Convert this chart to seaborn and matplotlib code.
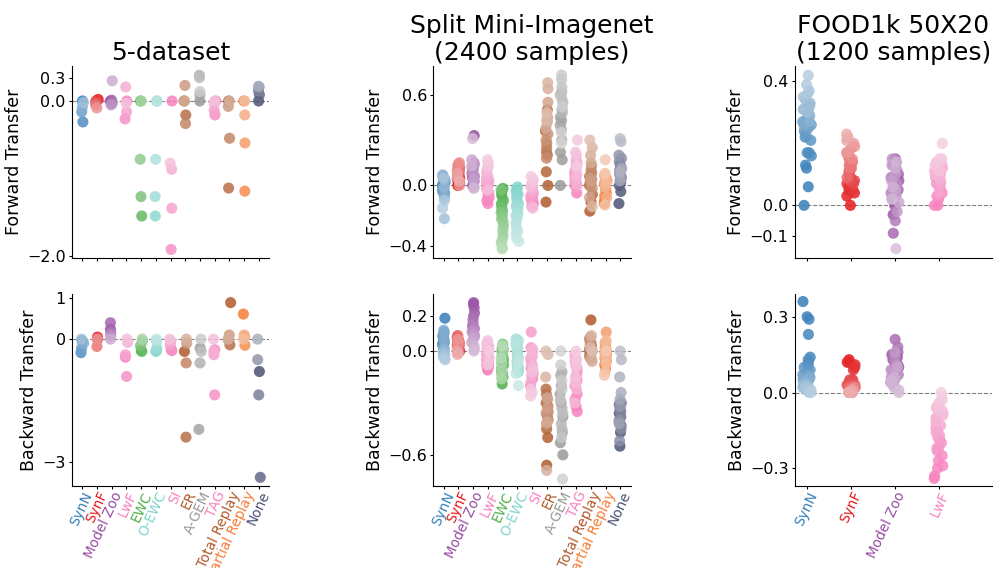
import numpy as np
import pandas as pd
import matplotlib
matplotlib.use("Agg")
import matplotlib.pyplot as plt
import matplotlib.transforms as mtransforms
import seaborn as sns

np.random.seed(3)

methods = ["SynN", "SynF", "Model Zoo", "LwF", "EWC", "O-EWC", "SI", "ER",
           "A-GEM", "TAG", "Total Replay", "Partial Replay", "None"]
colors = ["#377eb8", "#e41a1c", "#984ea3", "#f781bf", "#4daf4a", "#80d4cc",
          "#f781bf", "#b05a2c", "#999999", "#f781bf", "#b05a2c", "#f67d35", "#4c5275"]
food_methods = methods[:4]

titles = ["5-dataset", "Split Mini-Imagenet\n(2400 samples)", "FOOD1k 50X20\n(1200 samples)"]

# values per method, listed from first task (darkest) to last task (lightest)
five_fwd = [
    [0.0, -0.27, -0.14, -0.08, -0.02],
    [0.02, 0.0, -0.02, -0.05, -0.09],
    [0.0, 0.01, -0.03, -0.05, 0.26],
    [0.0, -0.23, -0.14, 0.18, -0.03],
    [0.0, -1.48, -1.23, -0.75, 0.0],
    [0.0, -1.48, -1.23, -0.75, 0.0],
    [0.0, -1.91, -1.38, -0.88, -0.8],
    [0.0, -0.18, -0.29, 0.2, 0.0],
    [0.0, 0.08, 0.33, 0.3, 0.12],
    [0.0, -0.18, -0.12, -0.03, 0.0],
    [0.0, -1.12, -0.48, -0.07, 0.0],
    [0.0, -1.16, -0.54, -0.18, 0.0],
    [0.0, 0.08, 0.13, 0.18, 0.19],
]
five_bwd = [
    [-0.04, -0.33, -0.22, -0.1, 0.0],
    [0.03, 0.05, 0.0, -0.18, 0.0],
    [0.24, 0.4, 0.15, 0.08, 0.0],
    [-0.44, -0.91, -0.38, -0.08, 0.0],
    [-0.28, -0.3, -0.16, -0.05, 0.0],
    [-0.28, -0.3, -0.22, -0.05, 0.0],
    [-0.28, -0.25, -0.14, -0.05, 0.0],
    [-0.3, -2.39, -0.58, -0.1, 0.0],
    [-0.22, -2.2, -0.58, -0.3, 0.0],
    [-0.26, -1.36, -0.38, -0.3, 0.0],
    [0.89, -0.14, -0.02, 0.1, 0.0],
    [0.61, -0.15, 0.06, 0.1, 0.0],
    [-0.79, -3.37, -1.36, -0.5, 0.0],
]
mini_fwd = [
    [0.0, 0.02, -0.02, 0.04, -0.04, 0.01, -0.06, 0.03, 0.05, -0.03, -0.05, 0.06, -0.08, 0.07, -0.01, 0.04, -0.22, 0.05, -0.1, -0.15],
    [0.0, 0.02, 0.01, 0.04, 0.03, 0.06, 0.05, 0.08, 0.07, 0.1, 0.09, 0.12, 0.11, 0.14, 0.13, 0.15, 0.0, 0.05, 0.08, 0.03],
    [0.33, 0.0, 0.05, 0.1, 0.12, 0.08, 0.03, 0.07, 0.15, 0.11, 0.06, 0.02, 0.09, 0.14, 0.04, -0.01, 0.17, 0.13, -0.02, 0.31],
    [-0.12, -0.1, -0.08, -0.06, -0.05, -0.02, 0.0, 0.02, 0.03, -0.01, 0.05, 0.04, 0.06, 0.08, 0.1, -0.03, 0.12, 0.13, 0.15, 0.17],
    [-0.02, -0.05, -0.07, -0.1, -0.12, -0.13, -0.15, -0.17, -0.03, -0.18, -0.2, -0.22, -0.24, -0.27, -0.3, -0.33, -0.36, -0.38, -0.41, -0.42],
    [-0.01, -0.03, -0.05, -0.06, -0.08, -0.1, -0.12, -0.13, -0.14, -0.15, -0.17, -0.19, -0.2, -0.22, -0.25, -0.28, -0.3, -0.32, -0.35, -0.37],
    [-0.12, -0.1, -0.11, -0.08, -0.13, -0.06, -0.09, -0.04, -0.07, -0.05, -0.02, -0.14, -0.03, 0.0, -0.15, -0.01, 0.02, 0.03, 0.04, 0.06],
    [-0.11, 0.0, 0.09, 0.36, 0.5, 0.22, 0.2, 0.25, 0.28, 0.18, 0.3, 0.34, 0.42, 0.45, 0.55, 0.38, 0.64, 0.68, 0.43, 0.48],
    [0.0, 0.17, 0.22, 0.43, 0.45, 0.4, 0.3, 0.37, 0.5, 0.48, 0.55, 0.6, 0.62, 0.58, 0.65, 0.7, 0.73, 0.52, 0.35, 0.28],
    [-0.05, 0.0, 0.02, 0.05, 0.03, 0.08, 0.1, 0.06, 0.12, 0.14, 0.15, 0.17, 0.0, 0.04, 0.07, 0.11, 0.2, 0.22, 0.3, 0.13],
    [-0.17, -0.11, -0.06, 0.0, 0.02, 0.04, 0.06, 0.08, 0.1, 0.13, 0.01, -0.02, 0.05, 0.03, -0.08, 0.15, 0.2, 0.25, -0.14, 0.3],
    [-0.12, -0.1, -0.07, -0.05, -0.03, -0.02, 0.0, 0.01, 0.02, 0.03, 0.04, 0.05, 0.06, -0.08, -0.01, 0.02, 0.07, -0.13, 0.08, 0.17],
    [-0.12, -0.04, 0.0, 0.02, 0.04, 0.06, 0.08, 0.1, 0.12, 0.14, 0.16, 0.18, 0.2, 0.05, 0.07, 0.03, 0.11, 0.09, 0.29, 0.31],
]
mini_bwd = [
    [0.19, 0.05, 0.06, 0.04, 0.08, 0.07, 0.03, 0.1, 0.09, 0.02, 0.12, 0.11, 0.06, 0.01, 0.0, -0.01, -0.02, -0.03, -0.04, -0.05],
    [0.0, 0.02, 0.04, 0.06, 0.05, 0.03, 0.07, 0.01, 0.08, 0.09, 0.0, 0.02, 0.04, 0.06, 0.03, 0.05, 0.07, -0.01, 0.0, -0.02],
    [0.28, 0.27, 0.25, 0.22, 0.14, 0.2, 0.18, 0.16, 0.15, 0.13, 0.12, 0.11, 0.1, 0.09, 0.08, 0.07, 0.05, 0.03, 0.01, 0.0],
    [-0.11, -0.1, -0.09, -0.08, -0.07, -0.06, -0.05, -0.04, -0.03, -0.02, -0.01, 0.0, 0.01, 0.02, 0.03, 0.04, 0.06, -0.05, -0.08, 0.0],
    [-0.19, -0.15, -0.12, -0.08, -0.05, -0.03, 0.0, 0.02, 0.04, -0.1, -0.13, -0.14, -0.06, -0.02, 0.01, -0.07, -0.11, -0.16, -0.04, 0.03],
    [-0.12, -0.1, -0.08, -0.06, -0.04, -0.02, 0.0, 0.02, 0.04, 0.06, 0.07, -0.11, -0.09, -0.03, 0.01, 0.05, -0.05, -0.07, -0.13, -0.2],
    [-0.2, -0.16, -0.13, -0.1, -0.08, 0.0, 0.02, 0.11, -0.04, -0.06, -0.18, -0.14, -0.11, -0.03, 0.01, -0.09, -0.12, -0.22, -0.24, -0.26],
    [-0.66, -0.5, -0.45, -0.3, -0.22, -0.25, -0.32, -0.35, -0.38, -0.4, -0.28, -0.36, -0.42, -0.33, -0.27, -0.41, -0.69, -0.15, -0.02, 0.0],
    [-0.6, -0.53, -0.38, -0.3, -0.47, -0.25, -0.2, -0.14, -0.12, -0.33, -0.42, -0.45, -0.36, -0.28, -0.5, -0.22, -0.17, -0.08, -0.74, 0.0],
    [-0.35, -0.32, -0.28, -0.25, -0.2, -0.17, -0.14, -0.12, -0.1, -0.08, -0.06, -0.04, -0.02, -0.22, -0.3, -0.18, -0.15, -0.09, -0.05, 0.0],
    [0.18, -0.03, -0.02, -0.01, 0.0, 0.01, 0.02, 0.03, 0.05, 0.07, 0.04, 0.06, 0.08, -0.04, 0.0, -0.05, -0.06, 0.09, 0.02, 0.0],
    [-0.1, -0.08, -0.06, -0.04, -0.02, 0.0, 0.02, 0.04, 0.11, -0.05, 0.03, -0.01, 0.05, 0.01, -0.03, 0.06, -0.07, -0.12, -0.14, 0.0],
    [-0.55, -0.47, -0.36, -0.31, -0.33, -0.38, -0.41, -0.43, -0.3, -0.35, -0.45, -0.52, -0.4, -0.32, -0.42, -0.28, -0.24, -0.15, -0.05, 0.0],
]
food_fwd = [
    [0.0, 0.06, 0.12, 0.13, 0.17, 0.16, 0.17, 0.22, 0.21, 0.24, 0.25, 0.23, 0.26, 0.27, 0.25,
     0.28, 0.26, 0.3, 0.29, 0.27, 0.31, 0.32, 0.34, 0.33, 0.3, 0.35, 0.37, 0.36, 0.39, 0.42],
    [0.0, 0.03, 0.04, 0.05, 0.06, 0.07, 0.05, 0.08, 0.09, 0.07, 0.1, 0.08, 0.11, 0.1, 0.12,
     0.13, 0.09, 0.14, 0.15, 0.12, 0.16, 0.17, 0.15, 0.18, 0.19, 0.17, 0.2, 0.21, 0.22, 0.23],
    [0.0, 0.13, -0.03, 0.08, 0.15, 0.1, 0.05, -0.09, 0.12, 0.02, 0.06, 0.14, -0.05, 0.09, 0.04,
     0.11, 0.07, 0.03, 0.15, -0.02, 0.1, 0.08, 0.13, 0.05, 0.01, 0.12, 0.06, 0.14, 0.02, -0.14],
    [0.0, 0.0, 0.02, 0.03, 0.04, 0.05, 0.03, 0.06, 0.07, 0.05, 0.08, 0.06, 0.09, 0.1, 0.04,
     0.07, 0.11, 0.08, 0.12, 0.09, 0.1, 0.13, 0.12, 0.14, 0.11, 0.15, 0.13, 0.14, 0.15, 0.2],
]
food_bwd = [
    [0.36, 0.3, 0.29, 0.23, 0.14, 0.12, 0.13, 0.11, 0.1, 0.09, 0.08, 0.07, 0.06, 0.07, 0.06,
     0.05, 0.05, 0.04, 0.06, 0.03, 0.04, 0.03, 0.02, 0.03, 0.02, 0.01, 0.02, 0.01, 0.0, 0.0],
    [0.13, 0.12, 0.11, 0.12, 0.09, 0.1, 0.05, 0.04, 0.05, 0.04, 0.03, 0.04, 0.03, 0.02, 0.03,
     0.02, 0.02, 0.01, 0.02, 0.01, 0.01, 0.02, 0.01, 0.0, 0.01, 0.0, 0.01, 0.0, 0.0, 0.0],
    [0.14, 0.13, 0.1, 0.15, 0.12, 0.11, 0.16, 0.09, 0.21, 0.13, 0.18, 0.1, 0.08, 0.12, 0.07,
     0.14, 0.09, 0.06, 0.11, 0.05, 0.16, 0.08, 0.04, 0.1, 0.03, 0.06, 0.02, 0.05, 0.01, 0.0],
    [-0.34, -0.33, -0.3, -0.29, -0.27, -0.25, -0.23, -0.22, -0.2, -0.19, -0.22, -0.18, -0.17, -0.15, -0.14,
     -0.16, -0.13, -0.12, -0.1, -0.11, -0.09, -0.08, -0.07, -0.06, -0.05, -0.07, -0.04, -0.03, -0.02, 0.0],
]

yticks_fwd = [[0.3, 0.0, -2.0], [0.6, 0.0, -0.4], [0.4, 0.0, -0.1]]
yticks_bwd = [[1, 0, -3], [0.2, 0.0, -0.6], [0.3, 0.0, -0.3]]


def long_table(values, names):
    rows = []
    for name, vals in zip(names, values):
        for task, v in enumerate(vals):
            rows.append((name, str(task), v))
    return pd.DataFrame(rows, columns=["method", "task", "value"])


def draw(ax, values, names, ylabel, yticks, ylim, xlim, bottom):
    df = long_table(values, names)
    ax.axhline(0, color="gray", ls="--", lw=0.8, zorder=0)
    for name, col in zip(names, colors):
        sub = df[df["method"] == name]
        n = len(sub)
        # dark (first task) -> light (last task), not going all the way to white
        shades = sns.light_palette(col, n_colors=int(n * 1.4) + 1, reverse=True)[:n]
        pal = {str(i): shades[i] for i in range(n)}
        sns.stripplot(data=sub, x="method", y="value", hue="task", palette=pal,
                      hue_order=[str(i) for i in range(n)], order=names, ax=ax,
                      size=8, alpha=0.85, jitter=0.1, linewidth=0, legend=False)
    ax.set_ylim(*ylim)
    ax.set_xlim(*xlim)
    ax.set_yticks(yticks)
    ax.set_xlabel("")
    ax.set_ylabel(ylabel, fontsize=12.5, labelpad=3)
    ax.tick_params(axis="y", labelsize=11.5, length=2.5, pad=2)
    ax.tick_params(axis="x", length=2.5, pad=2)
    sns.despine(ax=ax)
    if bottom:
        ax.set_xticks(range(len(names)))
        ax.set_xticklabels(names, rotation=65, ha="right", va="center",
                           rotation_mode="anchor", fontsize=9.8)
        shift = mtransforms.ScaledTranslation(5 / 72, 0, ax.figure.dpi_scale_trans)
        for lab, col in zip(ax.get_xticklabels(), colors):
            lab.set_color(col)
            lab.set_transform(lab.get_transform() + shift)
    else:
        ax.tick_params(axis="x", labelbottom=False)


fig, axes = plt.subplots(2, 3, figsize=(9.97, 5.68), dpi=100)
fig.subplots_adjust(left=0.0722, right=0.995, top=0.8838, bottom=0.1444,
                    wspace=0.832, hspace=0.1875)

panels = [
    (five_fwd, five_bwd, methods, (-2.02, 0.45), (-3.58, 1.1), (-0.7, 12.7)),
    (mini_fwd, mini_bwd, methods, (-0.48, 0.79), (-0.78, 0.33), (-0.7, 12.7)),
    (food_fwd, food_bwd, food_methods, (-0.17, 0.45), (-0.37, 0.39), (-0.28, 4.22)),
]

for j, (fwd, bwd, names, ylf, ylb, xl) in enumerate(panels):
    draw(axes[0, j], fwd, names, "Forward Transfer", yticks_fwd[j], ylf, xl, False)
    draw(axes[1, j], bwd, names, "Backward Transfer", yticks_bwd[j], ylb, xl, True)
    axes[0, j].set_title(titles[j], fontsize=18, pad=4)

plt.savefig("out.png", dpi=100)
plt.close()
